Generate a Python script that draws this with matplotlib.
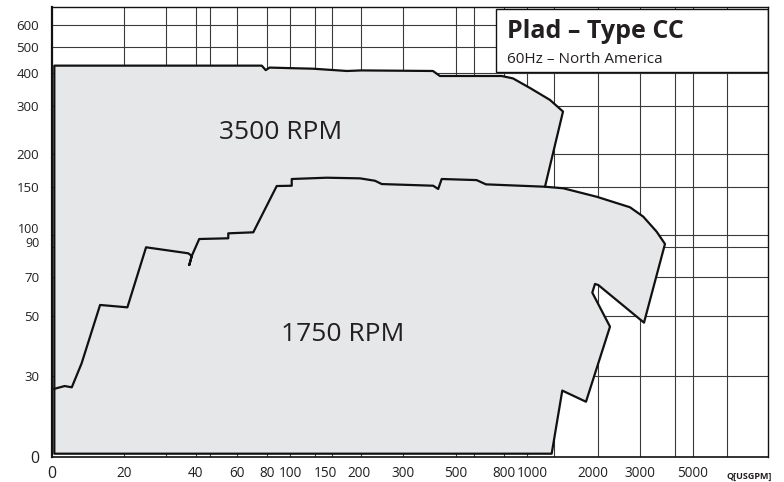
import matplotlib
matplotlib.use('Agg')
import matplotlib.pyplot as plt
from matplotlib.patches import Rectangle
from matplotlib.ticker import NullLocator
from matplotlib.transforms import ScaledTranslation

plt.rcParams['font.family'] = ['Open Sans', 'DejaVu Sans']

# 3500 RPM envelope, Q in USGPM, H in ft
q_3500 = [10.13, 10.13, 76, 79, 82, 100, 125, 174, 200, 401, 429, 782, 873, 1030, 1250, 1419, 1180]
h_3500 = [15.39, 425, 425, 409, 418, 416, 414, 406, 408, 406, 389, 389, 381, 351, 317, 287, 151]

# 1750 RPM envelope
q_1750 = [10.13, 11.2, 12.0, 13.2, 15.8, 20.6, 24.7, 37.2, 38.5, 37.6, 38.5, 41.4, 54.9, 54.9,
          70.0, 87.9, 101.7, 101.7, 142.8, 197.4, 228.4, 243.8, 402, 422, 436.6, 613, 671,
          1191, 1423, 1969, 2720, 3096, 3526, 3822, 3117, 2000, 1936, 1886, 2240, 1774, 1409, 1271]
h_1750 = [26.8, 27.45, 27.15, 33.3, 54.9, 53.8, 89.9, 85.4, 83.5, 77.3, 83.5, 96.5, 97.1, 101.3,
          102.2, 151.8, 152.2, 161.2, 163, 162.1, 158.8, 154.4, 152.2, 148, 161.2, 159.7, 154,
          150.9, 148.9, 138.5, 126.6, 116.8, 102.7, 92.5, 47.2, 65.1, 65.7, 61, 45.6, 24, 26.4, 15.39]

x_ticks = [9.874, 20, 40, 60, 80, 100, 150, 200, 300, 500, 800, 1000, 2000, 3000, 5000]
x_labels = ['0', '20', '40', '60', '80', '100', '150', '200', '300', '500', '800', '1000',
            '2000', '3000', '5000']
y_ticks = [15, 30, 50, 70, 90, 100, 150, 200, 300, 400, 500, 600]
y_labels = ['0', '30', '50', '70', '90', '100', '150', '200', '300', '400', '500', '600']
x_grid = [20, 30, 40, 46, 60, 80, 100, 128, 150, 200, 300, 500, 600, 800, 1000, 1300,
          2000, 3000, 4200, 5000, 7000]
y_grid = [30, 50, 70, 90, 100, 150, 200, 300, 400, 500, 600]

txt = '#231f20'

fig = plt.figure(figsize=(7.84, 4.82), dpi=100)
ax = fig.add_axes([0.06594, 0.05249, 0.9140, 0.9324])
ax.set_xscale('log')
ax.set_yscale('log')
ax.set_xlim(9.874, 10426)
ax.set_ylim(15, 700)

for x in x_grid:
    ax.axvline(x, color='#3a3a3a', lw=0.8, zorder=1)
for y in y_grid:
    ax.axhline(y, color='#3a3a3a', lw=0.8, zorder=1)

# gray area = union of both envelopes
join = q_1750.index(1191)
fill_q = q_3500[:-1] + q_1750[join:]
fill_h = h_3500[:-1] + h_1750[join:]
ax.fill(fill_q, fill_h, facecolor='#e6e7e8', edgecolor='#111111', lw=1.6,
        joinstyle='round', zorder=2)
ax.plot(q_1750[:join + 1], h_1750[:join + 1], color='#111111', lw=1.6, zorder=3)

ax.text(91, 239, '3500 RPM', fontsize=19, color=txt, ha='center', va='center', zorder=4)
ax.text(167, 42.8, '1750 RPM', fontsize=19, color=txt, ha='center', va='center', zorder=4)

# title box
ax.add_patch(Rectangle((0.6196, 0.8567), 0.3804, 0.1388, transform=ax.transAxes,
                       facecolor='white', edgecolor='#111111', lw=1, zorder=5))
ax.text(0.635, 0.931, 'Plad – Type CC', transform=ax.transAxes, fontsize=18,
        fontweight='bold', color=txt, va='baseline', zorder=6)
ax.text(0.635, 0.8754, '60Hz – North America', transform=ax.transAxes, fontsize=11,
        color=txt, va='baseline', zorder=6)

ax.set_xticks(x_ticks, x_labels)
ax.set_yticks(y_ticks, y_labels)
ax.xaxis.set_minor_locator(NullLocator())
ax.yaxis.set_minor_locator(NullLocator())
ax.tick_params(axis='x', length=0, pad=6.5, labelsize=9.8, labelcolor=txt)
ax.tick_params(axis='y', length=0, pad=9, labelsize=9.5, labelcolor=txt)
for lab in ax.get_xticklabels() + ax.get_yticklabels():
    if lab.get_text() == '0':
        lab.set_fontsize(11.5)

# hand-placed label nudges, in pixels
yshift = {'100': 6.5, '90': 5.5}
for lab in ax.get_yticklabels():
    if lab.get_text() in yshift:
        lab.set_fontsize(9)
        lab.set_transform(lab.get_transform() +
                          ScaledTranslation(0, yshift[lab.get_text()] / 100, fig.dpi_scale_trans))
xshift = {'150': -6, '200': -2.5, '1000': 5, '2000': -5}
for lab in ax.get_xticklabels():
    if lab.get_text() in xshift:
        lab.set_transform(lab.get_transform() +
                          ScaledTranslation(xshift[lab.get_text()] / 100, 0, fig.dpi_scale_trans))

ax.text(8700, -0.043, 'Q[USGPM]', transform=ax.get_xaxis_transform(), fontsize=6.5,
        fontweight='bold', color=txt, ha='center', va='center')

for side in ['top', 'right']:
    ax.spines[side].set_linewidth(1)
ax.spines['left'].set_linewidth(1.6)
ax.spines['bottom'].set_linewidth(1.2)
for s in ax.spines.values():
    s.set_color('#111111')
    s.set_zorder(7)

fig.savefig('out.png', dpi=100)
